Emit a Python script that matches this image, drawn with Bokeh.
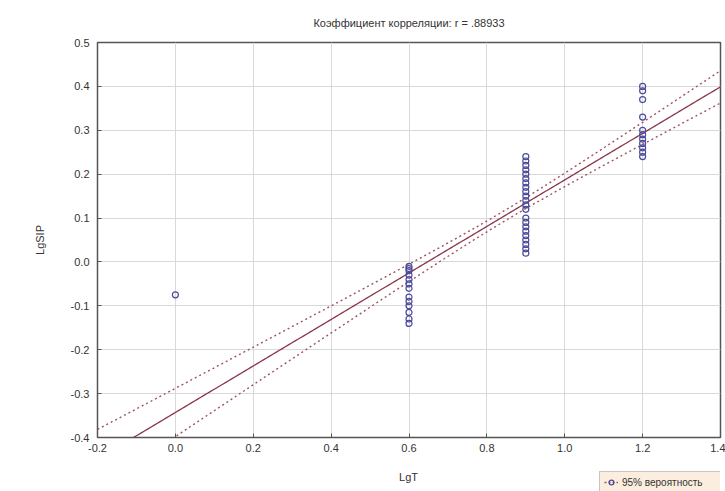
import numpy as np
from bokeh.plotting import figure
from bokeh.layouts import column
from bokeh.models import (ColumnDataSource, Range1d, FixedTicker, Label,
                          Legend, LegendItem, NumeralTickFormatter)
from bokeh.embed import file_html
from bokeh.resources import INLINE

# ---- data ----
lgT_0 = [0.0]
lgSIP_0 = [-0.075]
lgT_06 = [0.6] * 13
lgSIP_06 = [-0.01, -0.015, -0.02, -0.03, -0.04, -0.05, -0.06,
            -0.08, -0.09, -0.10, -0.115, -0.13, -0.14]
lgT_09 = [0.9] * 22
lgSIP_09 = [0.24, 0.23, 0.22, 0.21, 0.20, 0.19, 0.18, 0.17, 0.16, 0.15, 0.14,
            0.13, 0.12, 0.10, 0.09, 0.08, 0.07, 0.06, 0.05, 0.04, 0.03, 0.02]
lgT_12 = [1.2] * 11
lgSIP_12 = [0.40, 0.39, 0.37, 0.33, 0.30, 0.29, 0.28, 0.27, 0.26, 0.25, 0.24]

fit_intercept = -0.343
fit_slope = 0.53
band_center_x = 0.85
band_min_halfwidth = 0.012
band_spread = 0.00399

title_text = "Коэффициент корреляции: r = .88933"
x_label = "LgT"
y_label = "LgSIP"
legend_label = "95% вероятность"
x_ticks = [-0.2, 0.0, 0.2, 0.4, 0.6, 0.8, 1.0, 1.2, 1.4]
y_ticks = [-0.4, -0.3, -0.2, -0.1, 0.0, 0.1, 0.2, 0.3, 0.4, 0.5]

xs = lgT_0 + lgT_06 + lgT_09 + lgT_12
ys = lgSIP_0 + lgSIP_06 + lgSIP_09 + lgSIP_12

xl = np.linspace(-0.2, 1.4, 200)
fit = fit_intercept + fit_slope * xl
hw = np.sqrt(band_min_halfwidth ** 2 + band_spread * (xl - band_center_x) ** 2)

BAND_COLOR = "#9a5466"
FIT_COLOR = "#8a3648"
PT_COLOR = "#4b4b9a"
TXT = "#333333"
FONT = "Liberation Sans"

p = figure(width=725, height=461, output_backend="svg", toolbar_location=None,
           x_range=Range1d(-0.2, 1.4), y_range=Range1d(-0.4, 0.5),
           min_border_left=97, min_border_right=5, min_border_top=42,
           min_border_bottom=24, title=title_text)
p.title.align = "center"
p.title.text_font = FONT
p.title.text_font_size = "11px"
p.title.text_font_style = "normal"
p.title.text_color = TXT
p.title.standoff = 27

p.background_fill_color = "white"
p.outline_line_color = "#555555"
p.outline_line_width = 1.5

for ax in (p.xaxis[0], p.yaxis[0]):
    ax.major_label_text_font = FONT
    ax.major_label_text_font_size = "11px"
    ax.major_label_text_color = TXT
    ax.axis_label_text_font = FONT
    ax.axis_label_text_font_size = "11px"
    ax.axis_label_text_font_style = "normal"
    ax.axis_label_text_color = TXT
    ax.major_tick_in = 4
    ax.major_tick_out = 0
    ax.minor_tick_line_color = None
    ax.axis_line_color = "#555555"
    ax.major_tick_line_color = "#555555"
    ax.formatter = NumeralTickFormatter(format="0.0")
p.xaxis[0].ticker = FixedTicker(ticks=x_ticks)
p.yaxis[0].ticker = FixedTicker(ticks=y_ticks)
p.yaxis[0].axis_label = y_label
p.yaxis[0].major_label_standoff = 8
p.yaxis[0].axis_label_standoff = 22
p.xaxis[0].major_label_standoff = 6

p.xgrid.ticker = FixedTicker(ticks=x_ticks)
p.ygrid.ticker = FixedTicker(ticks=y_ticks)
p.grid.grid_line_color = "#d9d9d9"
p.grid.grid_line_width = 1

p.line(xl, fit + hw, line_color=BAND_COLOR, line_width=1.4, line_dash="2 3")
p.line(xl, fit - hw, line_color=BAND_COLOR, line_width=1.4, line_dash="2 3")
p.line(xl, fit, line_color=FIT_COLOR, line_width=1.3)

src = ColumnDataSource(dict(x=xs, y=ys))
p.scatter("x", "y", source=src, marker="circle", size=6,
          fill_color=None, line_color=PT_COLOR, line_width=1.2)

# strip below the chart: x-axis title and legend (frame aligned with p's)
p2 = figure(width=725, height=30, output_backend="svg", toolbar_location=None,
            x_range=Range1d(0, 1), y_range=Range1d(0, 1),
            min_border=0, min_border_left=97, min_border_right=5,
            min_border_top=0, min_border_bottom=0)
p2.axis.visible = False
p2.grid.visible = False
p2.outline_line_color = None
# off-range renderers used only for the legend swatch
lg_line = p2.line([-10, -9], [-10, -9], line_color=BAND_COLOR, line_width=1.4,
                  line_dash="2 2")
lg_pts = p2.scatter([-10], [-10], marker="circle", size=6, fill_color=None,
                    line_color=PT_COLOR, line_width=1.2)
p2.add_layout(Label(x=311, y=15, x_units="screen", y_units="screen",
                    text=x_label, text_align="center", text_baseline="middle",
                    text_font=FONT, text_font_size="11px", text_color=TXT))
legend = Legend(items=[LegendItem(label=legend_label,
                                  renderers=[lg_line, lg_pts])],
                location=(502, -2), orientation="horizontal",
                background_fill_color="#fbeede",
                background_fill_alpha=1.0, border_line_color="#999999",
                label_text_font=FONT, label_text_font_size="10px",
                label_text_color=TXT, glyph_width=14, glyph_height=12,
                padding=4, margin=0, label_standoff=4, spacing=0,
                label_height=12, label_width=104)
p2.add_layout(legend, "center")

layout = column(p, p2, spacing=0)
open("out.html", "w").write(file_html(layout, INLINE))
